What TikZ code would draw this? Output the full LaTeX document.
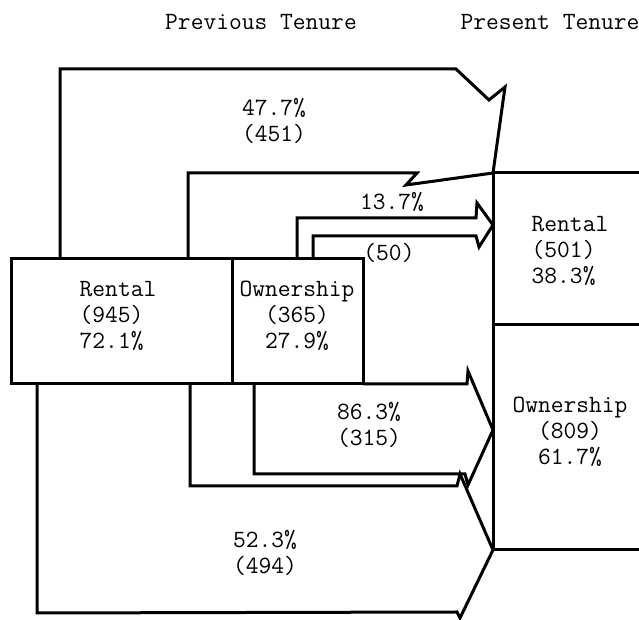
\documentclass[tikz,border=0pt]{standalone}
\usepackage{tikz}
\usetikzlibrary{positioning}
\tikzset{
  outline/.style={line width=1.5pt,line join=miter,miter limit=20},
  typed/.style={font=\fontsize{12.4}{13}\selectfont\ttfamily,inner sep=0pt},
  boxtext/.style={typed,align=center},
  flowlabel/.style={typed,align=center}
}

\begin{document}
\begin{tikzpicture}[x=0.5pt,y=-0.5pt]
  \useasboundingbox (0,0) rectangle (639,620);
  % headings
  \node[typed] (prevtitle) at (261,22) {Previous Tenure};
  \node[typed] (prestitle) at (550,22) {Present Tenure};
  % previous tenure boxes
  \draw[outline] (11,259) rectangle (232,384);
  \draw[outline] (232,259) rectangle (363,384);
  \node[boxtext,align=left] (prevrent) at (118,316) {Rental\\(945)\\72.1\%};
  \node[boxtext] (prevown) at (297,316) {Ownership\\(365)\\27.9\%};
  % present tenure boxes (open to the right)
  \draw[outline] (639,173) -- (493,173) -- (493,550) -- (639,550);
  \draw[outline] (493,325) -- (639,325);
  \node[boxtext,align=left] (presrent) at (570,251) {Rental\\(501)\\38.3\%};
  \node[boxtext] (presown) at (570,432) {Ownership\\(809)\\61.7\%};
  % rental -> rental
  \draw[outline] (60,259) -- (60,69) -- (456,69) -- (489,100) -- (505,87) -- (493,173)
    -- (406,185) -- (417,173) -- (188,173) -- (188,259);
  \node[flowlabel] (rentrent) at (274,121) {47.7\%\\(451)};
  % ownership -> rental
  \draw[outline] (297,259) -- (297,218) -- (476,218) -- (477,203) -- (493,225)
    -- (479,247) -- (476,236) -- (313,236) -- (313,259);
  \node[flowlabel] (ownrent) at (392,202) {13.7\%};
  \node[flowlabel] (ownrentn) at (389,253) {(50)};
  % ownership -> ownership
  \draw[outline] (363,384) -- (467,384) -- (468,371) -- (493,430) -- (468,485)
    -- (465,474) -- (254,474) -- (254,384);
  \node[flowlabel] (ownown) at (369,425) {86.3\%\\(315)};
  % rental -> ownership
  \draw[outline] (190,384) -- (190,486) -- (457,486) -- (460,474) -- (493,550)
    -- (460,618) -- (457,612) -- (37,613) -- (37,384);
  \node[flowlabel] (rentown) at (265,553) {52.3\%\\(494)};
\end{tikzpicture}
\end{document}
